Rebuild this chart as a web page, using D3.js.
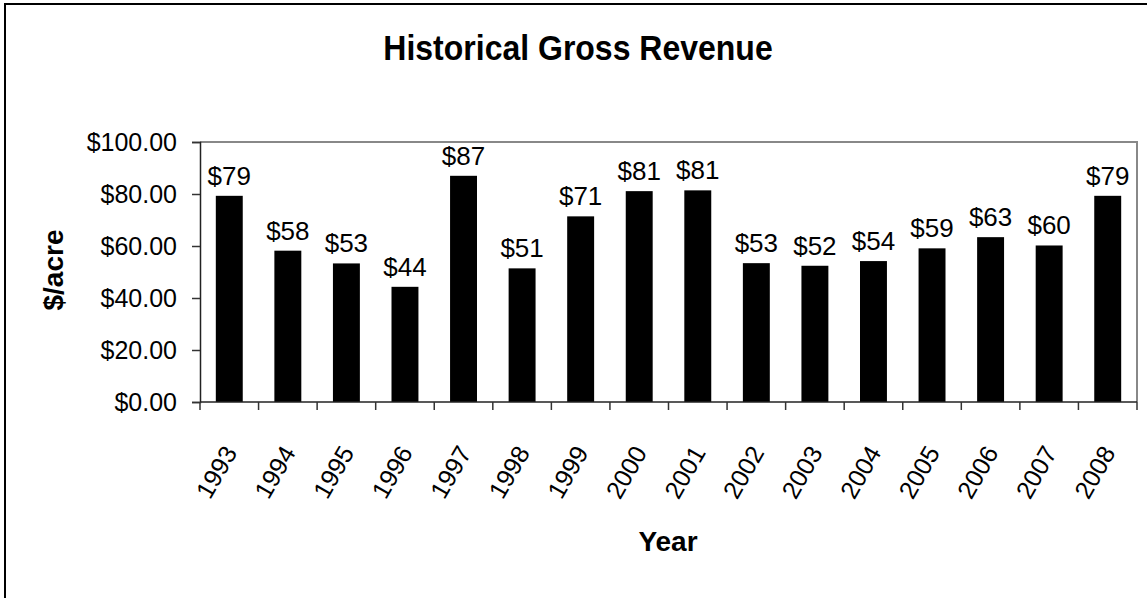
<!DOCTYPE html>
<html>
<head>
<meta charset="utf-8">
<script src="https://cdn.jsdelivr.net/npm/d3@7"></script>
<style>
  body { margin: 0; background: #fff; }
  text { font-family: "Liberation Sans", Arial, sans-serif; fill: #000; }
</style>
</head>
<body>
<div id="chart"></div>
<script>
// data
const years = ["1993", "1994", "1995", "1996", "1997", "1998", "1999", "2000",
               "2001", "2002", "2003", "2004", "2005", "2006", "2007", "2008"];
const revenue = [79.3, 58.2, 53.3, 44.3, 87.0, 51.4, 71.4, 81.1,
                 81.4, 53.4, 52.4, 54.2, 59.1, 63.4, 60.2, 79.3];
const yTicks = [0, 20, 40, 60, 80, 100];

// svg size and plot area
const W = 1147, H = 598;
const plot = { left: 200, top: 142, right: 1137, bottom: 402 };

const svg = d3.select("#chart")
  .append("svg")
  .attr("width", W)
  .attr("height", H);

// outer chart border (runs off the right and bottom)
svg.append("rect")
  .attr("x", 5).attr("y", 4)
  .attr("width", 1200).attr("height", 700)
  .attr("fill", "#fff")
  .attr("stroke", "#000")
  .attr("stroke-width", 2);

const x = d3.scaleBand()
  .domain(years)
  .range([plot.left, plot.right])
  .paddingInner(0.54)
  .paddingOuter(0.27);

const y = d3.scaleLinear()
  .domain([0, 100])
  .range([plot.bottom, plot.top]);

// top and right frame of plot area (gray)
svg.append("path")
  .attr("d", "M" + plot.left + "," + plot.top + "H" + plot.right + "V" + plot.bottom)
  .attr("fill", "none")
  .attr("stroke", "#888")
  .attr("stroke-width", 2);

// bars
svg.selectAll("rect.bar")
  .data(revenue)
  .enter()
  .append("rect")
  .attr("class", "bar")
  .attr("x", (d, i) => x(years[i]))
  .attr("y", d => y(d))
  .attr("width", x.bandwidth())
  .attr("height", d => y(0) - y(d))
  .attr("fill", "#000");

// value labels
svg.selectAll("text.val")
  .data(revenue)
  .enter()
  .append("text")
  .attr("class", "val")
  .attr("x", (d, i) => x(years[i]) + x.bandwidth() / 2)
  .attr("y", d => y(d) - 11)
  .attr("text-anchor", "middle")
  .style("font-size", "26px")
  .text(d => "$" + Math.round(d));

// y axis
const yAxis = svg.append("g")
  .attr("transform", "translate(" + plot.left + ",0)")
  .call(d3.axisLeft(y).tickValues(yTicks).tickSize(8).tickPadding(15)
    .tickFormat(d => "$" + d3.format(".2f")(d)));
yAxis.select(".domain").attr("stroke", "#222").attr("stroke-width", 1.5);
yAxis.selectAll(".tick line").attr("stroke", "#333").attr("stroke-width", 1.5);
yAxis.selectAll(".tick text")
  .style("font-size", "25px")
  .style("font-family", "'Liberation Sans', Arial, sans-serif")
  .attr("fill", "#000");

// x axis: ticks sit on category boundaries
const bounds = years.map(d => x(d) - x.step() * x.paddingInner() / 2);
bounds.push(plot.right);
svg.append("line")
  .attr("x1", plot.left).attr("x2", plot.right)
  .attr("y1", plot.bottom).attr("y2", plot.bottom)
  .attr("stroke", "#222").attr("stroke-width", 1.5);
svg.selectAll("line.xtick")
  .data(bounds)
  .enter()
  .append("line")
  .attr("class", "xtick")
  .attr("x1", d => d).attr("x2", d => d)
  .attr("y1", plot.bottom).attr("y2", plot.bottom + 8)
  .attr("stroke", "#333").attr("stroke-width", 1.5);

svg.selectAll("text.xlab")
  .data(years)
  .enter()
  .append("text")
  .attr("class", "xlab")
  .attr("transform", d => "translate(" + (x(d) + x.bandwidth() / 2 + 1) + ",448) rotate(-60)")
  .attr("text-anchor", "end")
  .attr("dy", "0.35em")
  .style("font-size", "25px")
  .text(d => d);

// title and axis titles
svg.append("text")
  .attr("transform", "translate(578,60) scale(1,1.1)")
  .attr("text-anchor", "middle")
  .style("font-size", "32px")
  .style("font-weight", "bold")
  .text("Historical Gross Revenue");

svg.append("text")
  .attr("x", 668).attr("y", 551)
  .attr("text-anchor", "middle")
  .style("font-size", "28px")
  .style("font-weight", "bold")
  .text("Year");

svg.append("text")
  .attr("transform", "translate(63,270) rotate(-90)")
  .attr("text-anchor", "middle")
  .style("font-size", "28px")
  .style("font-weight", "bold")
  .text("$/acre");
</script>
</body>
</html>
